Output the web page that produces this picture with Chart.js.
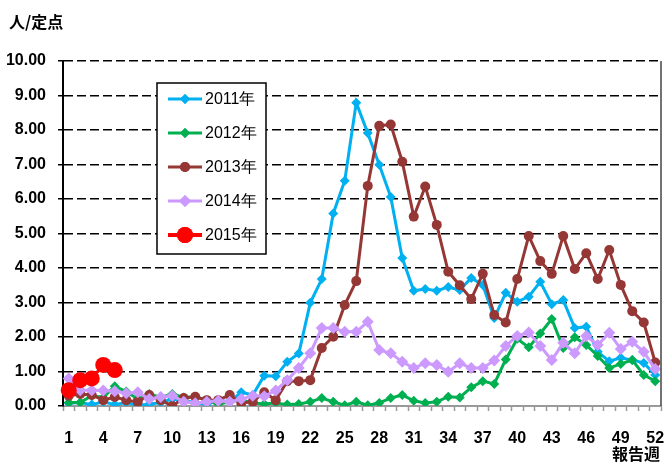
<!DOCTYPE html>
<html>
<head>
<meta charset="utf-8">
<script src="https://cdn.jsdelivr.net/npm/chart.js@4"></script>
<style>
  body { margin: 0; background: #fff; overflow: hidden; }
  #wrap { position: relative; width: 664px; height: 463px; overflow: hidden; }
  .lbl { position: absolute; font-family: "Noto Sans CJK JP", sans-serif; font-weight: bold; font-size: 16px; color: #000; white-space: nowrap; }
</style>
</head>
<body>
<div id="wrap">
  <canvas id="chart" width="669" height="463"></canvas>
  <div class="lbl" style="left:9px; top:9px;">人/定点</div>
  <div class="lbl" style="left:612px; top:441px;">報告週</div>
</div>
<script>
const weeks = Array.from({ length: 52 }, (_, i) => String(i + 1));
const seriesNames = ['2011年', '2012年', '2013年', '2014年', '2015年'];

const y2011 = [0.08, 0.10, 0.04, 0.12, 0.04, 0.10, 0.02, 0.05, 0.10, 0.20,
  0.15, 0.10, 0.05, 0.17, 0.12, 0.40, 0.32, 0.88, 0.86, 1.28,
  1.52, 2.99, 3.68, 5.58, 6.53, 8.79, 7.91, 6.99, 6.06, 4.29,
  3.34, 3.39, 3.34, 3.45, 3.36, 3.71, 3.51, 2.55, 3.28, 3.02,
  3.17, 3.60, 2.95, 3.07, 2.26, 2.30, 1.57, 1.30, 1.40, 1.33,
  1.25, 0.90];
const y2012 = [0.10, 0.10, 0.30, 0.25, 0.57, 0.42, 0.20, 0.35, 0.25, 0.35,
  0.25, 0.27, 0.17, 0.05, 0.12, 0.17, 0.09, 0.06, 0.09, 0.04,
  0.06, 0.12, 0.23, 0.12, 0.02, 0.12, 0.02, 0.09, 0.23, 0.32,
  0.15, 0.09, 0.12, 0.27, 0.25, 0.54, 0.72, 0.64, 1.35, 1.95,
  1.70, 2.10, 2.52, 1.68, 1.99, 1.77, 1.45, 1.10, 1.22, 1.33,
  0.90, 0.72];
const y2013 = [0.30, 0.35, 0.32, 0.17, 0.26, 0.17, 0.12, 0.32, 0.17, 0.00,
  0.23, 0.27, 0.17, 0.17, 0.32, 0.09, 0.12, 0.40, 0.17, 0.72,
  0.72, 0.75, 1.68, 2.01, 2.93, 3.62, 6.38, 8.12, 8.16, 7.08,
  5.49, 6.36, 5.25, 3.89, 3.50, 3.10, 3.83, 2.64, 2.42, 3.68,
  4.93, 4.20, 3.83, 4.93, 3.97, 4.43, 3.68, 4.52, 3.51, 2.75,
  2.42, 1.26];
const y2014 = [0.80, 0.46, 0.46, 0.45, 0.43, 0.37, 0.40, 0.20, 0.26, 0.30,
  0.12, 0.08, 0.12, 0.15, 0.12, 0.20, 0.30, 0.28, 0.45, 0.75,
  1.10, 1.53, 2.26, 2.26, 2.15, 2.15, 2.44, 1.62, 1.53, 1.28,
  1.10, 1.24, 1.19, 0.99, 1.24, 1.10, 1.10, 1.32, 1.74, 2.03,
  2.13, 1.74, 1.33, 1.83, 1.53, 2.03, 1.77, 2.12, 1.65, 1.86,
  1.57, 1.07];
const y2015 = [0.46, 0.75, 0.80, 1.19, 1.04];

const yTicks = [0, 1, 2, 3, 4, 5, 6, 7, 8, 9, 10];

function series(label, data, color, style, radius, order) {
  return {
    label, data, order,
    borderColor: color, backgroundColor: color,
    pointBackgroundColor: color, pointBorderColor: color,
    borderWidth: 3, pointStyle: style, pointRadius: radius, pointBorderWidth: 0,
    tension: 0
  };
}

// legend box drawn inside the plot like the original
const boxLegend = {
  id: 'boxLegend',
  afterDraw(chart) {
    const ctx = chart.ctx;
    const x0 = 157, y0 = 83, w = 109, h = 171;
    ctx.save();
    ctx.fillStyle = '#fff';
    ctx.fillRect(x0, y0, w, h);
    ctx.strokeStyle = '#000';
    ctx.lineWidth = 1.5;
    ctx.strokeRect(x0, y0, w, h);
    chart.data.datasets.forEach((ds, i) => {
      const y = 99 + i * 34;
      ctx.strokeStyle = ds.borderColor;
      ctx.lineWidth = i === 4 ? 4 : 3;
      ctx.beginPath();
      ctx.moveTo(168, y);
      ctx.lineTo(202, y);
      ctx.stroke();
      ctx.fillStyle = ds.borderColor;
      Chart.helpers.drawPoint(ctx, { pointStyle: ds.pointStyle, radius: ds.pointRadius, borderWidth: 0 }, 185, y);
      ctx.fill();
      ctx.fillStyle = '#000';
      ctx.font = '16px "Liberation Sans", sans-serif';
      ctx.textBaseline = 'middle';
      ctx.fillText(ds.label, 205, y + 1);
    });
    // right frame of the plot
    const a = chart.chartArea;
    ctx.strokeStyle = '#444';
    ctx.lineWidth = 1.5;
    ctx.beginPath();
    ctx.moveTo(a.right, a.top);
    ctx.lineTo(a.right, a.bottom);
    ctx.stroke();
    ctx.restore();
  }
};

new Chart(document.getElementById('chart'), {
  type: 'line',
  data: {
    labels: weeks,
    datasets: [
      series(seriesNames[0], y2011, '#00B0F0', 'rectRot', 5, 5),
      series(seriesNames[1], y2012, '#00B050', 'rectRot', 5, 4),
      series(seriesNames[2], y2013, '#953735', 'circle', 5, 3),
      series(seriesNames[3], y2014, '#CC99FF', 'rectRot', 6, 2),
      series(seriesNames[4], y2015, '#FF0000', 'circle', 8, 1)
    ]
  },
  options: {
    responsive: false,
    animation: false,
    layout: { padding: { top: 61, right: 0, left: 0, bottom: 0 } },
    plugins: { legend: { display: false }, tooltip: { enabled: false } },
    scales: {
      x: {
        offset: true,
        afterFit: (s) => { s.height = 57; s.paddingLeft = 0; s.paddingRight = 0; },
        grid: { offset: true, drawOnChartArea: false, drawTicks: true, tickLength: 5, color: '#999', tickWidth: 1.5 },
        border: { color: '#999', width: 2 },
        ticks: {
          autoSkip: false, maxRotation: 0, padding: 18, color: '#000',
          font: { family: '"Liberation Sans", sans-serif', weight: 'bold', size: 16 },
          callback: (v, i) => (i % 3 === 0 ? weeks[i] : '')
        }
      },
      y: {
        min: 0, max: 10,
        afterFit: (s) => { s.width = 63; },
        afterBuildTicks: (s) => { s.ticks = yTicks.map(v => ({ value: v })); },
        grid: {
          color: (c) => (c.tick && c.tick.value === 0 ? 'rgba(0,0,0,0)' : '#000'),
          lineWidth: 1.5, tickLength: 5, tickColor: '#000', tickBorderDash: []
        },
        border: { color: '#000', width: 2, dash: [9, 4] },
        ticks: {
          padding: 12, color: '#000',
          font: { family: '"Liberation Sans", sans-serif', weight: 'bold', size: 16 },
          callback: (v) => Number(v).toFixed(2)
        }
      }
    }
  },
  plugins: [boxLegend]
});
</script>
</body>
</html>
